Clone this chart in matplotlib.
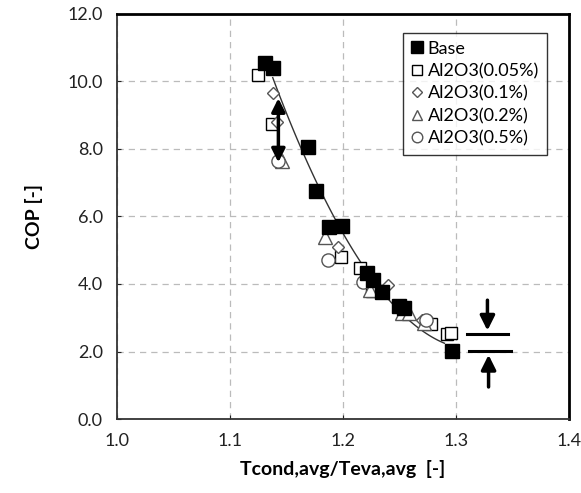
import numpy as np
import matplotlib
matplotlib.use('Agg')
import matplotlib.pyplot as plt

plt.rcParams['font.family'] = ['Lato', 'DejaVu Sans']

# Base
base_x = [1.131, 1.138, 1.169, 1.176, 1.188, 1.199, 1.221, 1.227, 1.235, 1.250, 1.254, 1.297]
base_y = [10.55, 10.40, 8.05, 6.75, 5.68, 5.72, 4.32, 4.11, 3.76, 3.36, 3.30, 2.01]

# Al2O3(0.05%)
a05_x = [1.125, 1.137, 1.198, 1.215, 1.226, 1.274, 1.278, 1.292, 1.296]
a05_y = [10.20, 8.75, 4.79, 4.47, 3.80, 2.84, 2.82, 2.51, 2.55]

# Al2O3(0.1%)
a1_x = [1.138, 1.142, 1.196, 1.240, 1.270]
a1_y = [9.65, 8.80, 5.09, 3.96, 2.93]

# Al2O3(0.2%)
a2_x = [1.146, 1.184, 1.224, 1.252, 1.259, 1.272]
a2_y = [7.63, 5.38, 3.82, 3.14, 3.14, 2.84]

# Al2O3(0.5%)
a5_x = [1.143, 1.187, 1.218, 1.274]
a5_y = [7.63, 4.70, 4.05, 2.93]

fig = plt.figure(figsize=(5.81, 4.93), dpi=100)
ax = fig.add_axes([0.201, 0.150, 0.778, 0.822])

# trend line (2nd order fit of base data)
coef = np.polyfit(base_x, base_y, 2)
xf = np.linspace(1.138, 1.29, 100)
ax.plot(xf, np.polyval(coef, xf), color='#333333', lw=1.0, zorder=2)

ax.plot(a05_x, a05_y, 's', ms=8.5, mfc='white', mec='black', mew=1.0, ls='none', label='Al2O3(0.05%)', zorder=3)
ax.plot(a1_x, a1_y, 'D', ms=6.5, mfc='white', mec='#555555', mew=1.0, ls='none', label='Al2O3(0.1%)', zorder=3)
ax.plot(a2_x, a2_y, '^', ms=9.5, mfc='white', mec='#555555', mew=1.0, ls='none', label='Al2O3(0.2%)', zorder=3)
ax.plot(a5_x, a5_y, 'o', ms=9.5, mfc='white', mec='#555555', mew=1.0, ls='none', label='Al2O3(0.5%)', zorder=3)
ax.plot(base_x, base_y, 's', ms=10, mfc='black', mec='black', ls='none', label='Base', zorder=4)

# double arrow near x=1.143
ax.annotate('', xy=(1.143, 7.6), xytext=(1.143, 9.5),
            arrowprops=dict(arrowstyle='<|-|>', color='black', lw=2.5, mutation_scale=20,
                            shrinkA=0, shrinkB=0), zorder=5)

# right-side bracket
ax.plot([1.310, 1.346], [2.51, 2.51], color='black', lw=2.2, zorder=5)
ax.plot([1.312, 1.349], [2.01, 2.01], color='black', lw=2.2, zorder=5)
ax.annotate('', xy=(1.328, 2.62), xytext=(1.328, 3.52),
            arrowprops=dict(arrowstyle='-|>', color='black', lw=2.5, mutation_scale=22,
                            shrinkA=0, shrinkB=0), zorder=5)
ax.annotate('', xy=(1.329, 1.90), xytext=(1.329, 0.95),
            arrowprops=dict(arrowstyle='-|>', color='black', lw=2.5, mutation_scale=22,
                            shrinkA=0, shrinkB=0), zorder=5)

ax.set_xlim(1.0, 1.4)
ax.set_ylim(0, 12)
ax.set_xticks([1.0, 1.1, 1.2, 1.3, 1.4])
ax.set_yticks([0, 2, 4, 6, 8, 10, 12])
ax.set_xticklabels(['1.0', '1.1', '1.2', '1.3', '1.4'])
ax.set_yticklabels(['0.0', '2.0', '4.0', '6.0', '8.0', '10.0', '12.0'])
ax.tick_params(labelsize=13, direction='in', length=3, pad=10, colors='#222222')
ax.grid(True, ls=(0, (5, 4)), color='#bbbbbb', lw=0.9)
ax.set_axisbelow(True)

for s in ['top', 'right']:
    ax.spines[s].set_linewidth(2.0)
for s in ['left', 'bottom']:
    ax.spines[s].set_linewidth(1.3)
    ax.spines[s].set_color('#333333')

ax.set_xlabel('Tcond,avg/Teva,avg  [-]', fontsize=14, fontweight='bold', labelpad=8)
ax.set_ylabel('COP [-]', fontsize=14, fontweight='bold', labelpad=18)

h, l = ax.get_legend_handles_labels()
order = [4, 0, 1, 2, 3]
leg = ax.legend([h[i] for i in order], [l[i] for i in order], loc='upper right',
                bbox_to_anchor=(0.972, 0.976), fontsize=13, frameon=True, fancybox=False,
                edgecolor='black', handlelength=0.6, handletextpad=0.3, borderpad=0.45,
                labelspacing=0.35, markerscale=0.8)
leg.get_frame().set_linewidth(1.0)

fig.savefig('out.png', dpi=100)
